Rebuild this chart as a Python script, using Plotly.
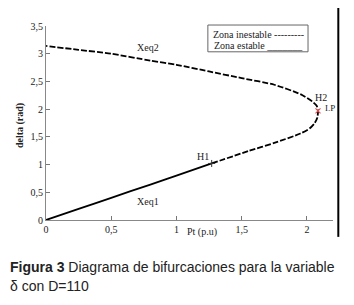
import plotly.graph_objects as go

# Stable branch (solid), from origin to H1
p_stable = [0.0, 0.25, 0.5, 0.8, 1.0, 1.27]
d_stable = [0.0, 0.20, 0.40, 0.64, 0.80, 1.02]

# Unstable branch (dashed): lower part after H1, then upper branch back to P=0
p_unstable = [1.27, 1.56, 1.75, 1.95, 2.02, 2.06, 2.08, 2.085, 2.075, 2.04, 1.95, 1.75, 1.5, 1.25, 1.0, 0.8, 0.5, 0.25, 0.0]
d_unstable = [1.02, 1.25, 1.39, 1.56, 1.65, 1.75, 1.85, 1.97, 2.06, 2.14, 2.27, 2.44, 2.56, 2.68, 2.80, 2.875, 3.0, 3.07, 3.14]

x_ticks = [0, 0.5, 1, 1.5, 2]
x_tick_labels = ["0", "0,5", "1", "1,5", "2"]
y_ticks = [0, 0.5, 1, 1.5, 2, 2.5, 3, 3.5]
y_tick_labels = ["0", "0,5", "1", "1,5", "2", "2,5", "3", "3,5"]

h1 = (1.27, 1.02)
ip = (2.085, 1.97)

serif = "Liberation Serif"
sans = "Liberation Sans"

fig = go.Figure()
fig.add_trace(go.Scatter(x=p_stable, y=d_stable, mode="lines",
                         line=dict(color="black", width=1.8),
                         line_shape="spline", line_smoothing=0.6,
                         showlegend=False, hoverinfo="skip"))
fig.add_trace(go.Scatter(x=p_unstable, y=d_unstable, mode="lines",
                         line=dict(color="black", width=1.8, dash="6px,2px"),
                         line_shape="spline", line_smoothing=0.6,
                         showlegend=False, hoverinfo="skip"))
fig.add_trace(go.Scatter(x=[h1[0]], y=[h1[1]], mode="markers",
                         marker=dict(symbol="cross-thin", size=5, line=dict(color="#333", width=1)),
                         showlegend=False, hoverinfo="skip"))
fig.add_trace(go.Scatter(x=[ip[0]], y=[ip[1]], mode="markers",
                         marker=dict(symbol="x-thin", size=5, line=dict(color="#e05050", width=1.2)),
                         showlegend=False, hoverinfo="skip"))

fig.update_xaxes(range=[0, 2.2], tickvals=x_ticks, ticktext=x_tick_labels,
                 ticks="inside", ticklen=4, tickcolor="#777", showline=True, linecolor="#888",
                 linewidth=1, showgrid=False, zeroline=False,
                 tickfont=dict(family=serif, size=10, color="#222"))
fig.update_yaxes(range=[0, 3.5], tickvals=y_ticks, ticktext=y_tick_labels,
                 ticks="inside", ticklen=4, tickcolor="#777", showline=True, linecolor="#888",
                 linewidth=1, showgrid=False, zeroline=False,
                 tickfont=dict(family=serif, size=10, color="#222"))

def txt(x, y, t, size=10, xref="x", yref="y", **kw):
    d = dict(x=x, y=y, xref=xref, yref=yref, text=t, showarrow=False,
             xanchor="center", yanchor="middle",
             font=dict(family=serif, size=size, color="#222"))
    d.update(kw)
    fig.add_annotation(**d)

txt(0.78, 3.12, "Xeq2")
txt(0.78, 0.33, "Xeq1")
txt(1.2, 1.15, "H1")
txt(2.11, 2.21, "H2")
txt(2.18, 2.02, "I.P", size=9)
txt(0.545, -0.063, "Pt (p.u)", xref="paper", yref="paper")
txt(-0.09, 0.485, "<b>delta (rad)</b>", xref="paper", yref="paper", textangle=-90)
# legend box text
txt(0.74, 0.954, "Zona inestable ---------", xref="paper", yref="paper")
txt(0.74, 0.898, "Zona estable _______", xref="paper", yref="paper")

# caption
fig.add_annotation(text="<b>Figura 3</b> Diagrama de bifurcaciones para la variable",
                   xref="paper", yref="paper", x=-0.132, y=-0.24, xanchor="left", yanchor="middle",
                   showarrow=False, font=dict(family=sans, size=14, color="#222"))
fig.add_annotation(text="δ con D=110",
                   xref="paper", yref="paper", x=-0.132, y=-0.342, xanchor="left", yanchor="middle",
                   showarrow=False, font=dict(family=sans, size=14, color="#222"))

fig.add_shape(type="rect", xref="paper", yref="paper", x0=0.564, x1=0.913, y0=0.867, y1=1.005,
              line=dict(color="#666", width=1), fillcolor="white", layer="below")
fig.add_shape(type="line", xref="paper", yref="paper", x0=1.0185, x1=1.0185, y0=-0.087, y1=1.13,
              line=dict(color="black", width=2))

# page body has an 8px margin, so the figure is made 8px smaller to compensate
fig.update_layout(width=346, height=297, margin=dict(l=38, r=21, t=16, b=85),
                  paper_bgcolor="white", plot_bgcolor="white")

fig.write_html("out.html")
